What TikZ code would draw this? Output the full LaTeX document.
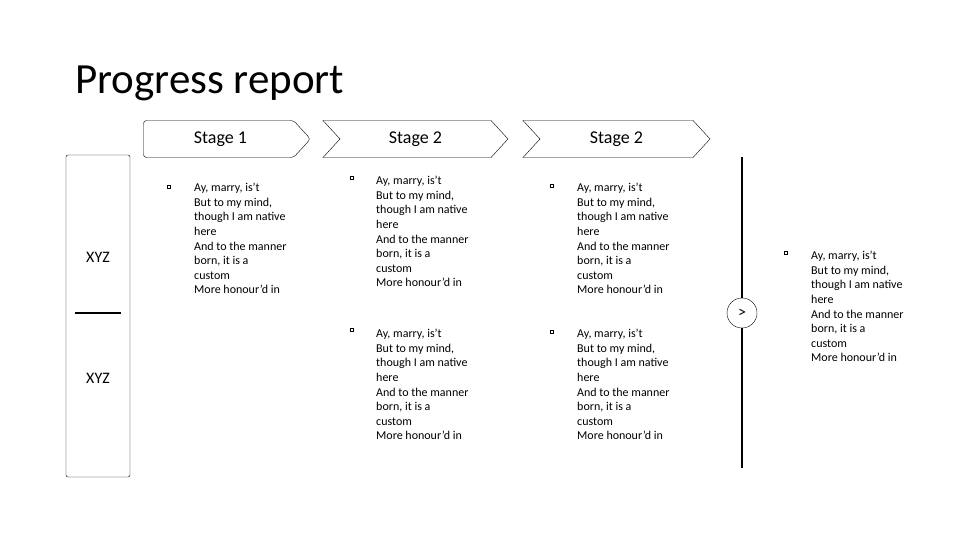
\documentclass[tikz,border=0pt]{standalone}
\usepackage{fontspec}
\setmainfont{Carlito}
\usetikzlibrary{shapes.symbols}

\newcommand{\hamletverse}{Ay, marry, is't\\But to my mind,\\though I am native\\here\\And to the manner\\born, it is a\\custom\\More honour'd in}

\begin{document}
\begin{tikzpicture}[x=1pt,y=-1pt,
    stagebox/.style={draw, signal, signal to=east, signal pointer angle=95, minimum height=37pt, inner sep=0, font=\fontsize{18}{20}\selectfont},
    bulletbox/.style={draw, minimum size=3.5pt, inner sep=0, line width=0.6pt},
    versebox/.style={anchor=north west, inner sep=0, align=left, font=\fontsize{12}{14.6}\selectfont},
    sidelabel/.style={font=\fontsize{16}{19}\selectfont},
    rail/.style={line width=2pt}]
    \useasboundingbox (0,0) rectangle (960,540);
    \node[anchor=base west, inner sep=0, font=\fontsize{43}{50}\selectfont] (title) at (75,94) {Progress report};
    % stage arrows
    \node[stagebox, signal from=nowhere, rounded corners=3pt, minimum width=167pt] (stage1) at (218.5,139) {\hspace*{4pt}Stage 1};
    \node[stagebox, signal from=west, minimum width=185pt] (stage2) at (415.5,139) {Stage 2};
    \node[stagebox, signal from=west, minimum width=187pt] (stage3) at (616.5,139) {Stage 2};
    % side panel
    \node[draw, rounded corners=2pt, minimum width=64pt, minimum height=322pt, inner sep=0] (side) at (98,316) {};
    \node[sidelabel] (xyz1) at (98,257) {XYZ};
    \node[sidelabel] (xyz2) at (98,378) {XYZ};
    \coordinate (divl) at (75,313);
    \coordinate (divr) at (121,313);
    \draw[rail] (divl) -- (divr);
    % bullet texts
    \node[bulletbox] (b1) at (169,187) {};
    \node[versebox] (v1) at (194,183) {\hamletverse};
    \node[bulletbox] (b2) at (352,178) {};
    \node[versebox] (v2) at (376,176) {\hamletverse};
    \node[bulletbox] (b3) at (352,330) {};
    \node[versebox] (v3) at (376,329) {\hamletverse};
    \node[bulletbox] (b4) at (552,186) {};
    \node[versebox] (v4) at (577,183) {\hamletverse};
    \node[bulletbox] (b5) at (552,332) {};
    \node[versebox] (v5) at (577,329) {\hamletverse};
    \node[bulletbox] (b6) at (786,253) {};
    \node[versebox] (v6) at (811,251) {\hamletverse};
    % rail with next button
    \node[draw, circle, minimum size=30pt, inner sep=0, font=\fontsize{16}{16}\selectfont] (next) at (742,313) {>};
    \coordinate (railtop) at (742,157);
    \coordinate (railbot) at (742,468);
    \draw[rail] (railtop) -- (next);
    \draw[rail] (next) -- (railbot);
\end{tikzpicture}
\end{document}
